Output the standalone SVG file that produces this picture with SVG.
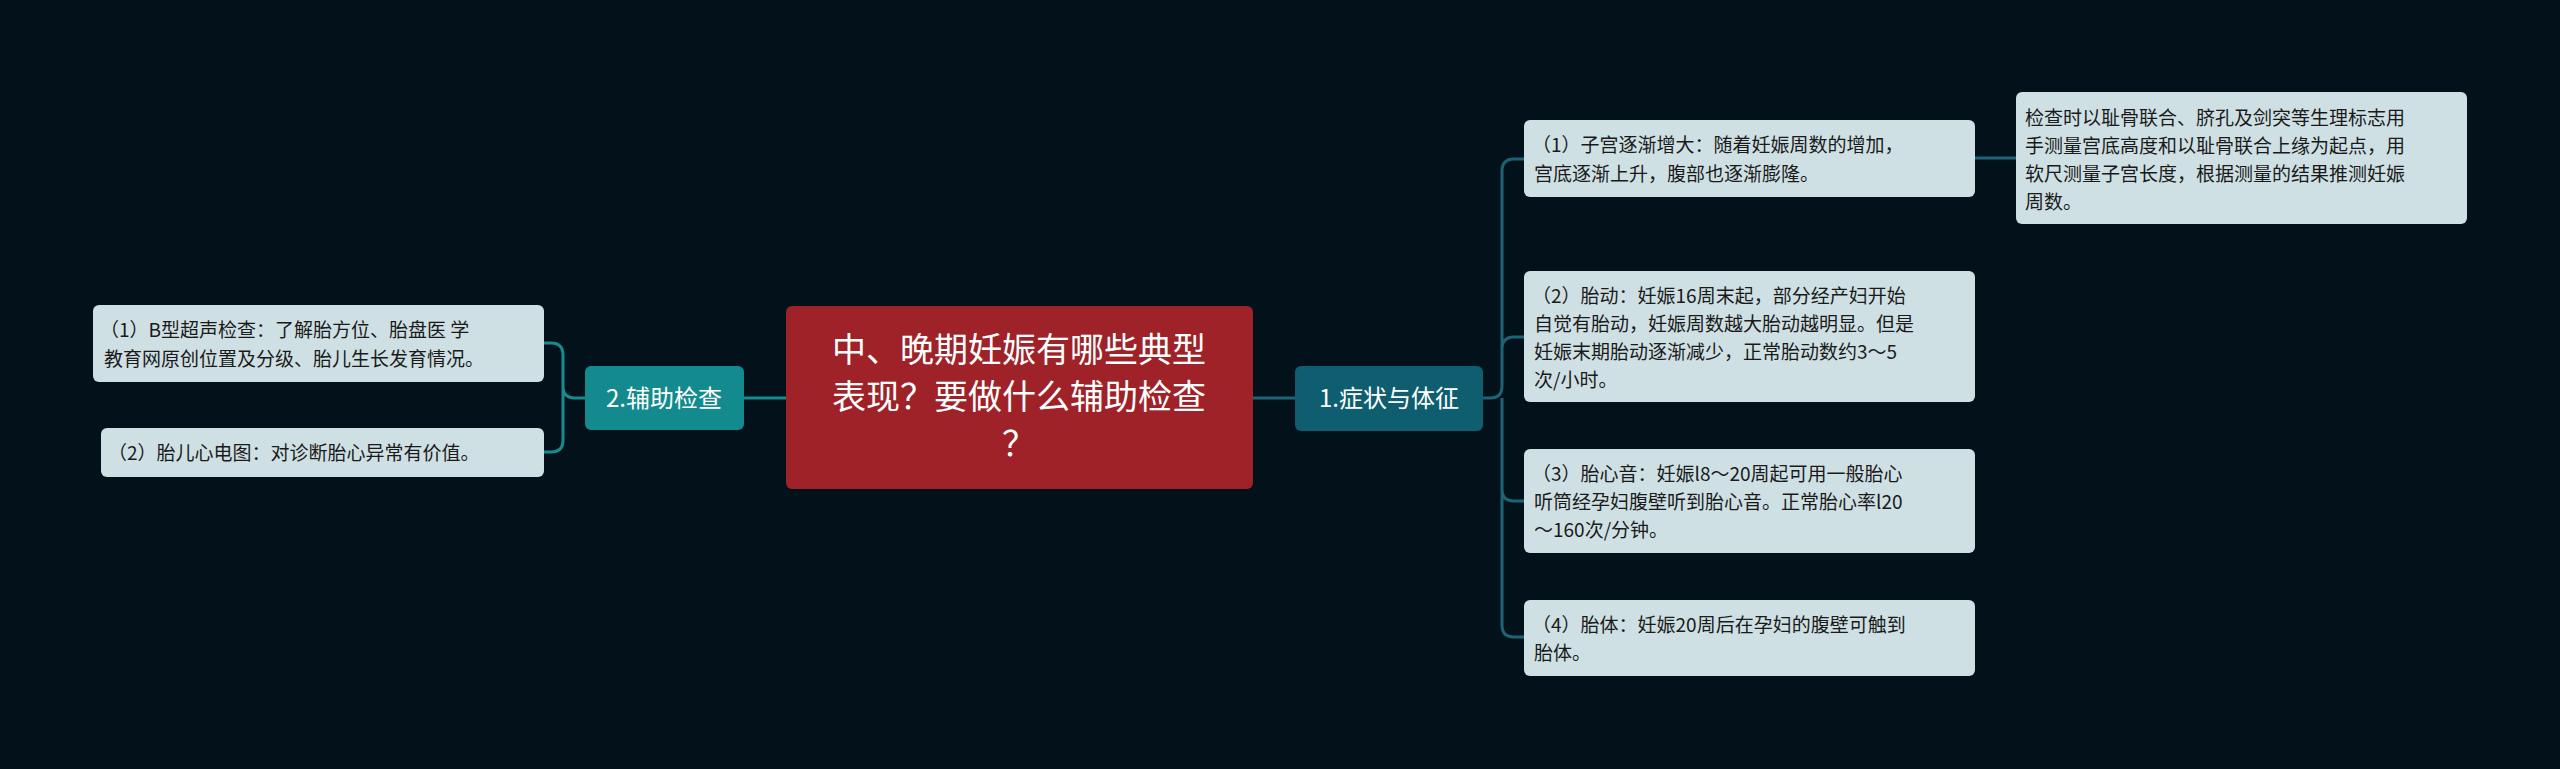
<svg xmlns="http://www.w3.org/2000/svg" width="2560" height="769" viewBox="0 0 2560 769">
<style>
.leaf{fill:#cfe0e4}
.t{font-family:"Noto Sans CJK SC","Noto Sans",sans-serif;font-size:19px;fill:#1a1a1a}
.c{fill:none;stroke-width:3}
</style>
<rect width="2560" height="769" fill="#03121a"/>
<g id="connectors">
<path class="c" stroke="#1b6475" d="M1253 398H1295M1483 398H1490Q1502 398 1502 386V171Q1502 159 1514 159H1524M1502 386V349Q1502 337 1514 337H1524M1502 398V489Q1502 501 1514 501H1524M1502 489V625Q1502 637 1514 637H1524M1975 158H2016"/>
<path class="c" stroke="#148c90" d="M786 398H744M585 398H575Q563 398 563 386V355Q563 343 551 343H544M563 386V440Q563 452 551 452H544"/>
</g>
<g id="center"><rect x="786" y="306" width="467" height="183" rx="6" fill="#9e2228"/>
<text font-family="Noto Sans CJK SC,sans-serif" font-size="34" fill="#fff" text-anchor="middle"><tspan x="1019" y="362">中、晚期妊娠有哪些典型</tspan><tspan x="1019" y="409">表现？要做什么辅助检查</tspan><tspan x="1019" y="456">？</tspan></text></g>
<g id="n1"><rect x="1295" y="366" width="188" height="65" rx="6" fill="#0f5e6f"/>
<text x="1389" y="407" font-family="Noto Sans CJK SC,sans-serif" font-size="24" fill="#fff" text-anchor="middle">1.症状与体征</text></g>
<g id="n2"><rect x="585" y="366" width="159" height="64" rx="6" fill="#128a8e"/>
<text x="664" y="407" font-family="Noto Sans CJK SC,sans-serif" font-size="24" fill="#fff" text-anchor="middle">2.辅助检查</text></g>
<g id="a1"><rect class="leaf" x="1524" y="120" width="451" height="77" rx="6"/>
<text class="t"><tspan x="1532" y="152">（1）子宫逐渐增大：随着妊娠周数的增加，</tspan><tspan x="1534" y="181">宫底逐渐上升，腹部也逐渐膨隆。</tspan></text></g>
<g id="a1b"><rect class="leaf" x="2016" y="92" width="451" height="132" rx="6"/>
<text class="t"><tspan x="2025" y="125">检查时以耻骨联合、脐孔及剑突等生理标志用</tspan><tspan x="2025" y="153">手测量宫底高度和以耻骨联合上缘为起点，用</tspan><tspan x="2025" y="181">软尺测量子宫长度，根据测量的结果推测妊娠</tspan><tspan x="2025" y="209">周数。</tspan></text></g>
<g id="a2"><rect class="leaf" x="1524" y="271" width="451" height="131" rx="6"/>
<text class="t"><tspan x="1532" y="303">（2）胎动：妊娠16周末起，部分经产妇开始</tspan><tspan x="1534" y="331">自觉有胎动，妊娠周数越大胎动越明显。但是</tspan><tspan x="1534" y="359">妊娠末期胎动逐渐减少，正常胎动数约3～5</tspan><tspan x="1534" y="387">次/小时。</tspan></text></g>
<g id="a3"><rect class="leaf" x="1524" y="449" width="451" height="104" rx="6"/>
<text class="t"><tspan x="1532" y="481">（3）胎心音：妊娠l8～20周起可用一般胎心</tspan><tspan x="1534" y="509">听筒经孕妇腹壁听到胎心音。正常胎心率l20</tspan><tspan x="1534" y="537">～160次/分钟。</tspan></text></g>
<g id="a4"><rect class="leaf" x="1524" y="600" width="451" height="76" rx="6"/>
<text class="t"><tspan x="1532" y="632">（4）胎体：妊娠20周后在孕妇的腹壁可触到</tspan><tspan x="1534" y="660">胎体。</tspan></text></g>
<g id="b1"><rect class="leaf" x="93" y="305" width="451" height="77" rx="6"/>
<text class="t"><tspan x="100" y="337">（1）B型超声检查：了解胎方位、胎盘医 学</tspan><tspan x="104" y="366">教育网原创位置及分级、胎儿生长发育情况。</tspan></text></g>
<g id="b2"><rect class="leaf" x="101" y="428" width="443" height="49" rx="6"/>
<text class="t"><tspan x="108" y="460">（2）胎儿心电图：对诊断胎心异常有价值。</tspan></text></g>
</svg>
